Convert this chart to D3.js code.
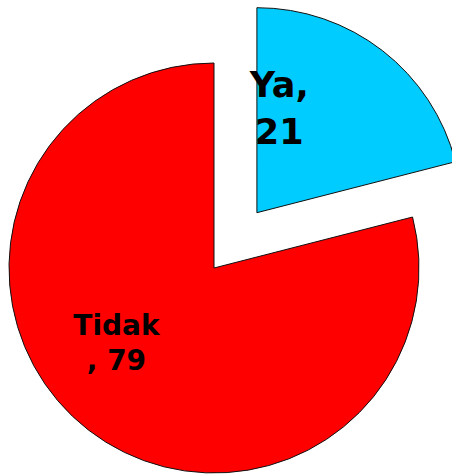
<!DOCTYPE html>
<html>
<head>
<meta charset="utf-8">
<script src="https://cdn.jsdelivr.net/npm/d3@7"></script>
<style>
  html, body { margin: 0; padding: 0; background: #fff; }
  svg { display: block; }
</style>
</head>
<body>
<div id="chart"></div>
<script>
const width = 452;
const height = 474;

// chart data
const labels = ['Ya', 'Tidak'];
const values = [21, 79];
const colors = ['#00CCFF', '#FF0000'];

const radius = 205;
const cx = 214, cy = 268;   // pie centre
const explode = [70, 0];    // how far each slice is pulled out

// label placement (angle from top in degrees, distance from slice apex)
const labelPos = [
    { angle: 12, dist: 107, size: 35, lineGap: 47 },
    { angle: 232.5, dist: 123, size: 28, lineGap: 35 }
];

const svg = d3.select('#chart').append('svg')
    .attr('width', width)
    .attr('height', height);

const pie = d3.pie().sort(null).value(d => d.value);
const arc = d3.arc().innerRadius(0).outerRadius(radius);

const slices = pie(labels.map((l, i) => ({ label: l, value: values[i], i: i })));

const g = svg.append('g').attr('transform', `translate(${cx},${cy})`);

const sliceG = g.selectAll('g.slice')
    .data(slices)
    .enter()
    .append('g')
    .attr('class', 'slice')
    .attr('transform', d => {
        const mid = (d.startAngle + d.endAngle) / 2;
        const off = explode[d.data.i];
        return `translate(${off * Math.sin(mid)},${-off * Math.cos(mid)})`;
    });

sliceG.append('path')
    .attr('d', arc)
    .attr('fill', d => colors[d.data.i])
    .attr('stroke', '#111')
    .attr('stroke-width', 1);

sliceG.each(function(d) {
    const p = labelPos[d.data.i];
    const a = p.angle * Math.PI / 180;
    const x = p.dist * Math.sin(a);
    const y = -p.dist * Math.cos(a);
    const lines = d.data.i === 0
        ? [d.data.label + ',', String(d.data.value)]
        : [d.data.label, ', ' + d.data.value];
    const t = d3.select(this).append('text')
        .attr('text-anchor', 'middle')
        .attr('font-family', 'DejaVu Sans, Verdana, sans-serif')
        .attr('font-weight', 'bold')
        .attr('font-size', p.size + 'px')
        .attr('fill', '#000');
    lines.forEach((ln, k) => {
        t.append('tspan')
            .attr('x', x)
            .attr('y', y + (k - 0.5) * p.lineGap + p.size * 0.36)
            .text(ln);
    });
});
</script>
</body>
</html>
